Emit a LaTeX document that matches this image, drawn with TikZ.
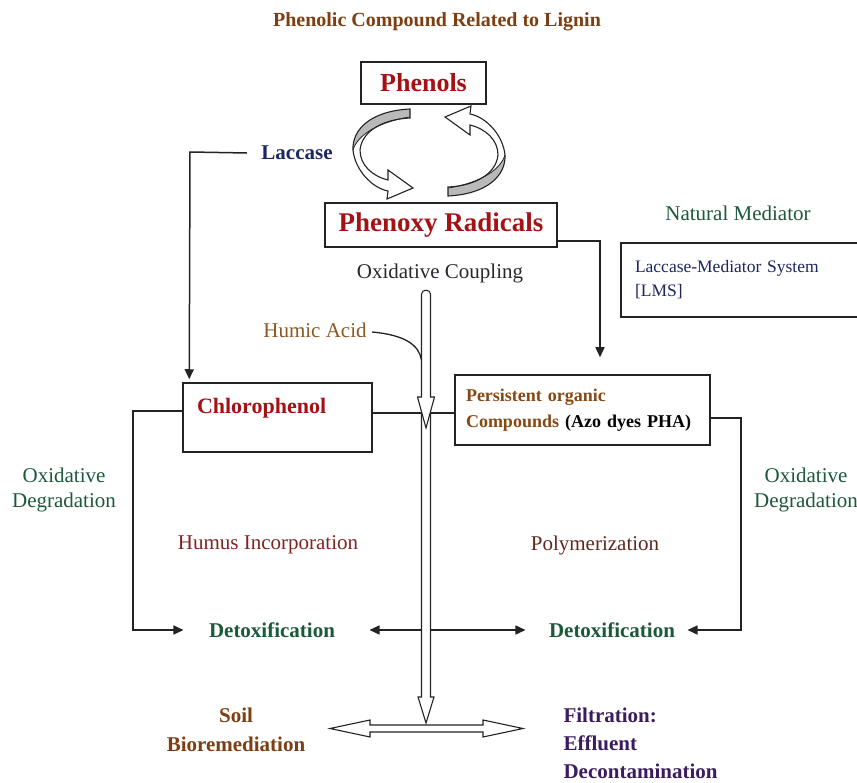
\documentclass[tikz,border=0pt]{standalone}
\usepackage{fontspec}
\setmainfont{Liberation Serif}
\usetikzlibrary{arrows.meta,calc}
\definecolor{cTitle}{RGB}{125,62,18}
\definecolor{cRed}{RGB}{165,18,22}
\definecolor{cBlue}{RGB}{28,38,98}
\definecolor{cGreen}{RGB}{28,88,58}
\definecolor{cHumus}{RGB}{128,35,35}
\definecolor{cPoly}{RGB}{95,40,30}
\definecolor{cHumic}{RGB}{140,88,32}
\definecolor{cPers}{RGB}{135,72,20}
\definecolor{cPurple}{RGB}{58,28,95}
\definecolor{cDark}{RGB}{40,40,50}
\definecolor{cLine}{RGB}{35,35,35}
\begin{document}
\begin{tikzpicture}[x=1pt,y=-1pt,
  box/.style={draw=cLine,line width=1.5pt,fill=white,inner sep=0pt},
  ln/.style={draw=cLine,line width=1.5pt},
  arr/.style={ln,-{Triangle[length=10pt,width=9pt]}},
  dblarr/.style={ln,{Triangle[length=10pt,width=9pt]}-{Triangle[length=10pt,width=9pt]}},
  hollow/.style={draw=cLine,line width=1.1pt,fill=white,line join=miter},
  reg/.style={font=\fontsize{21}{25}\selectfont},
  bld/.style={font=\fontsize{21}{27}\selectfont\bfseries}]
\useasboundingbox (0,0) rectangle (857,783);

% title
\node[font=\fontsize{20}{24}\selectfont\bfseries, text=cTitle] (title) at (437,22) {Phenolic Compound Related to Lignin};

% boxes
\node[box, minimum width=125pt, minimum height=42pt, font=\fontsize{26}{30}\selectfont\bfseries, text=cRed] (phenols) at (423.5,83) {\raisebox{-2pt}{Phenols}};
\node[box, minimum width=232pt, minimum height=44pt, font=\fontsize{27}{30}\selectfont\bfseries, text=cRed] (phenoxy) at (441,225) {Phenoxy Radicals};
\node[box, minimum width=189pt, minimum height=69pt, inner xsep=14pt, text width=161pt, align=left, font=\fontsize{22}{24}\selectfont\bfseries, text=cRed] (chloro) at (277.5,417.5) {Chlorophenol\\\mbox{}};
\node[box, minimum width=255pt, minimum height=70pt, inner xsep=11pt, text width=233pt, align=left, font=\fontsize{18}{26}\selectfont\bfseries, text=cPers] (pers) at (582.5,410) {Persistent organic\\Compounds {\color{black}(Azo dyes PHA)}};
\node[box, minimum width=259pt, minimum height=74pt, inner xsep=14pt, text width=231pt, align=left, font=\fontsize{17.5}{24}\selectfont, text=cBlue] (lms) at (750.5,280) {Laccase-Mediator System\\{[}LMS{]}};

% labels
\node[bld, text=cBlue] (laccase) at (297,153) {Laccase};
\node[reg, text=cDark] (coupling) at (440,273) {Oxidative Coupling};
\node[reg, text=cGreen] (natmed) at (738,213) {Natural Mediator};
\node[reg, text=cHumic] (humic) at (315,330) {Humic Acid};
\node[reg, text=cGreen, align=center] (oxL) at (64,490) {Oxidative\\Degradation};
\node[reg, text=cGreen, align=center] (oxR) at (806,490) {Oxidative\\Degradation};
\node[reg, text=cHumus] (humus) at (268,545) {Humus Incorporation};
\node[reg, text=cPoly] (poly) at (595,545) {Polymerization};
\node[bld, text=cGreen] (detoxL) at (272,630) {Detoxification};
\node[bld, text=cGreen] (detoxR) at (612,630) {Detoxification};
\node[bld, text=cTitle, align=center, font=\fontsize{21}{29}\selectfont\bfseries] (soil) at (236,730) {Soil\\Bioremediation};
\node[bld, text=cPurple, align=left, anchor=west, font=\fontsize{21}{28}\selectfont\bfseries] (filt) at (560,743) {Filtration:\\Effluent\\Decontamination};

% cycle arrows
\foreach \ang in {0,180}{
\begin{scope}[rotate around={\ang:(429,152.5)}]
  \fill[white] (410,109) .. controls (370,111) and (352,130) .. (353,150) .. controls (355,170) and (372,188) .. (388,191) -- (387,199) -- (413,188) -- (388,170) -- (388,180) .. controls (372,176) and (360,165) .. (360,150) .. controls (362,130) and (385,119) .. (410,118) -- cycle;
  \fill[gray!55] (410,109) .. controls (370,111) and (352,130) .. (353,150) .. controls (358,133) and (383,121) .. (410,117) -- cycle;
  \draw[cLine, line width=1.1pt, line join=miter] (410,109) .. controls (370,111) and (352,130) .. (353,150) .. controls (355,170) and (372,188) .. (388,191) -- (387,199) -- (413,188) -- (388,170) -- (388,180) .. controls (372,176) and (360,165) .. (360,150) .. controls (362,130) and (385,119) .. (410,118) -- cycle;
  \draw[cLine, line width=0.8pt] (353,150) .. controls (358,133) and (383,121) .. (410,117);
\end{scope}}

% connectors
\coordinate (cLT) at (190,152);
\draw[arr] ([xshift=-11pt]laccase.west) -- (cLT) -- ([xshift=7pt,yshift=3pt]chloro.north west);
\coordinate (cPT) at (600,241);
\draw[arr] ([yshift=-16pt]phenoxy.east) -- (cPT) -- ([xshift=17.5pt,yshift=17pt]pers.north);
\coordinate (cL) at (133,630);
\draw[arr] ([yshift=6.5pt]chloro.west) -| (cL) -- ([xshift=-22pt]detoxL.west);
\coordinate (cR) at (741,630);
\draw[arr] ([yshift=-8pt]pers.east) -| (cR) -- ([xshift=9pt]detoxR.east);
\draw[dblarr] ([xshift=31pt]detoxL.east) -- ([xshift=-20pt]detoxR.west);

% lower shaft (open top)
\fill[white] (421.5,413) rectangle (430.5,698);
\coordinate (sL) at (421.5,413);
\coordinate (sR) at (430.5,413);
\draw[ln] ([yshift=4.5pt]chloro.east) -- (sL);
\draw[ln] (sR) -- ([yshift=-3pt]pers.west);
\draw[hollow] (421.5,413) -- (421.5,697) -- (418,697) -- (426,723) -- (434,697) -- (430.5,697) -- (430.5,413);

% upper shaft
\draw[hollow] (421.5,397) -- (421.5,294) .. controls (421.5,289) and (430.5,289) .. (430.5,294) -- (430.5,397) -- (434.5,397) -- (426,428) -- (417.5,397) -- cycle;

% humic acid curve
\coordinate (hA) at (421.5,360);
\draw[cLine, line width=1.3pt] ([xshift=2pt,yshift=-2pt]humic.east) .. controls (405,335) and (419,345) .. (hA);

% bottom double hollow arrow
\draw[hollow] (370,725) -- (483,725) -- (483,720) -- (523,728.5) -- (483,737) -- (483,732) -- (370,732) -- (370,737) -- (330,728.5) -- (370,720) -- cycle;
\end{tikzpicture}
\end{document}
